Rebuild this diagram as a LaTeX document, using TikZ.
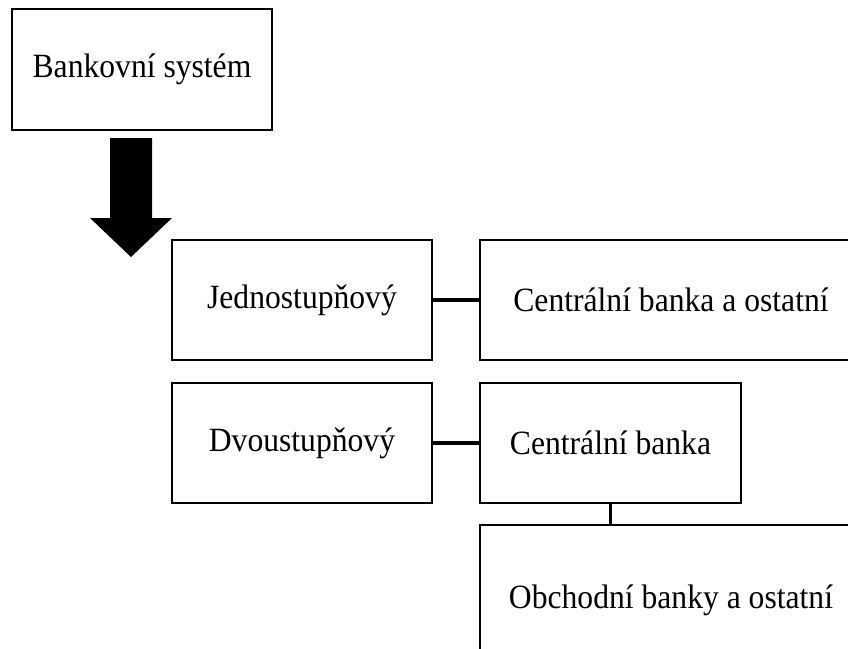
\documentclass[tikz,border=0pt]{standalone}
\usepackage{graphicx}
\usepackage{fontspec}
\setmainfont{Liberation Serif}
\newcommand{\boxtxt}[1]{\scalebox{0.93}[1]{#1}}
\begin{document}
\begin{tikzpicture}[x=1pt,y=-1pt,
  box/.style={draw=black, line width=1.5pt, rectangle, inner sep=0pt,
    font=\fontsize{34}{40}\selectfont},
  conn/.style={draw=black, line width=3.5pt}]
\clip (0,0) rectangle (848,648);
\fill[white] (0,0) rectangle (848,648);
\node[box, minimum width=260pt, minimum height=121pt] (bank) at (142,69.5) {\boxtxt{Bankovní systém}};
\node[box, minimum width=260pt, minimum height=120pt] (jedno) at (302,300) {\boxtxt{Jednostupňový}};
\node[box, minimum width=382pt, minimum height=120pt] (centr1) at (671,300) {\boxtxt{Centrální banka a ostatní}};
\node[box, minimum width=260pt, minimum height=120pt] (dvou) at (302,443) {\boxtxt{Dvoustupňový}};
\node[box, minimum width=261pt, minimum height=120pt] (centr2) at (610.5,443) {\boxtxt{Centrální banka}};
\node[box, minimum width=382pt, minimum height=150pt] (obch) at (671,600) {\boxtxt{Obchodní banky a ostatní}};
\draw[conn] (jedno.east) -- (centr1.west);
\draw[conn] (dvou.east) -- (centr2.west);
\draw[conn] (centr2.south) -- (centr2.south |- obch.north);
\coordinate (arrtop) at (131,138);
\fill[black] ([xshift=-21pt]arrtop) -- ([xshift=21pt]arrtop) -- ++(0,80) -- ++(20,0)
  -- (131,257) -- (90,218) -- (110,218) -- cycle;
\end{tikzpicture}
\end{document}
